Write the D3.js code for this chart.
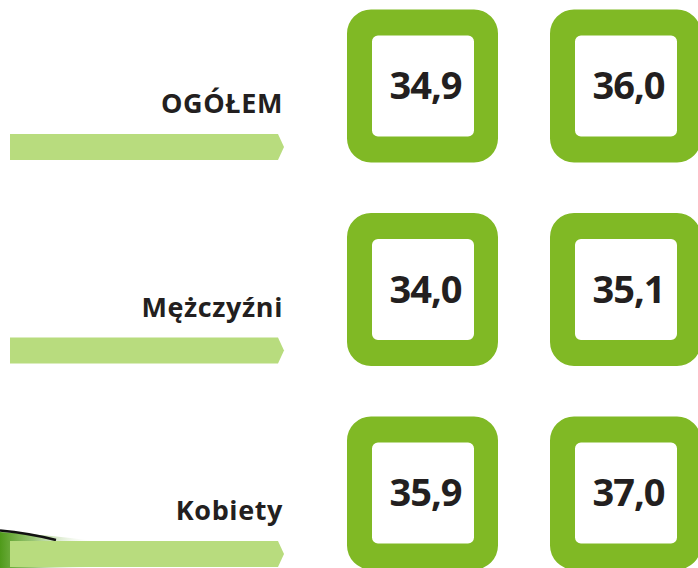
<!DOCTYPE html>
<html>
<head>
<meta charset="utf-8">
<script src="https://cdn.jsdelivr.net/npm/d3@7"></script>
<style>
  html, body { margin: 0; padding: 0; background: #fff; }
  svg { display: block; }
</style>
</head>
<body>
<svg id="place" width="698" height="568"></svg>
<script>
var categories = ["OGÓŁEM", "Mężczyźni", "Kobiety"];
var columns = ["pierwszy", "drugi"];
var valuesFirst = [34.9, 34.0, 35.9];
var valuesSecond = [36.0, 35.1, 37.0];

var W = 698, H = 568;
var svg = d3.select("#place");

var pl = d3.formatLocale({decimal: ",", thousands: " ", grouping: [3], currency: ["", " zł"]});
var fmt = pl.format(".1f");

// row centres follow the arrow bars, columns follow the boxes
var rowScale = d3.scalePoint()
    .domain(categories)
    .range([147, 554]);
var colScale = d3.scalePoint()
    .domain(columns)
    .range([422.5, 625.5]);

var green = "#80b925";
var lightGreen = "#b8dc7e";
var ink = "#231f20";

// decoration in the bottom left corner
var grad = svg.append("defs").append("linearGradient")
    .attr("id", "fade").attr("x1", 0).attr("x2", 1).attr("y1", 0).attr("y2", 0);
grad.append("stop").attr("offset", 0).attr("stop-color", "#4f9a1a");
grad.append("stop").attr("offset", 0.35).attr("stop-color", "#6fae3a").attr("stop-opacity", 0.7);
grad.append("stop").attr("offset", 1).attr("stop-color", "#ffffff").attr("stop-opacity", 0);
svg.append("path")
    .attr("d", "M0,532 Q50,535 95,541 L95,568 L0,568 Z")
    .attr("fill", "url(#fade)");
svg.append("path")
    .attr("d", "M0,530.5 Q28,533 56,540")
    .attr("fill", "none")
    .attr("stroke", "#111")
    .attr("stroke-width", 2.5);

var rows = svg.selectAll("g.row")
    .data(categories)
    .enter().append("g")
    .attr("class", "row")
    .attr("transform", function(d) { return "translate(0," + rowScale(d) + ")"; });

// arrow bars
rows.append("path")
    .attr("d", "M10,-13 L278,-13 L284,0 L278,13 L10,13 Z")
    .attr("fill", lightGreen);

rows.append("text")
    .attr("x", 283)
    .attr("y", -34)
    .attr("text-anchor", "end")
    .attr("font-family", "'Open Sans', sans-serif")
    .attr("font-weight", 700)
    .attr("font-size", 27)
    .attr("letter-spacing", 0.6)
    .attr("fill", ink)
    .text(function(d) { return d; });

// boxes
var roundRect = function(x, y, w, h, r) {
    return "M" + (x + r) + "," + y +
        "H" + (x + w - r) + "A" + r + "," + r + " 0 0 1 " + (x + w) + "," + (y + r) +
        "V" + (y + h - r) + "A" + r + "," + r + " 0 0 1 " + (x + w - r) + "," + (y + h) +
        "H" + (x + r) + "A" + r + "," + r + " 0 0 1 " + x + "," + (y + h - r) +
        "V" + (y + r) + "A" + r + "," + r + " 0 0 1 " + (x + r) + "," + y + "Z";
};

var cells = [];
categories.forEach(function(c, i) {
    cells.push({cat: c, col: columns[0], v: valuesFirst[i]});
    cells.push({cat: c, col: columns[1], v: valuesSecond[i]});
});

var boxes = svg.selectAll("g.box")
    .data(cells)
    .enter().append("g")
    .attr("class", "box")
    .attr("transform", function(d) {
        return "translate(" + colScale(d.col) + "," + (rowScale(d.cat) - 61) + ")";
    });

boxes.append("path")
    .attr("d", roundRect(-75.5, -76.5, 151, 153, 24) + roundRect(-50.5, -50.5, 102, 101, 6))
    .attr("fill-rule", "evenodd")
    .attr("fill", green);

boxes.append("text")
    .attr("x", 3)
    .attr("y", 13)
    .attr("text-anchor", "middle")
    .attr("font-family", "'Open Sans', sans-serif")
    .attr("font-weight", 700)
    .attr("font-size", 38)
    .attr("letter-spacing", -1)
    .attr("fill", ink)
    .text(function(d) { return fmt(d.v); });
</script>
</body>
</html>
